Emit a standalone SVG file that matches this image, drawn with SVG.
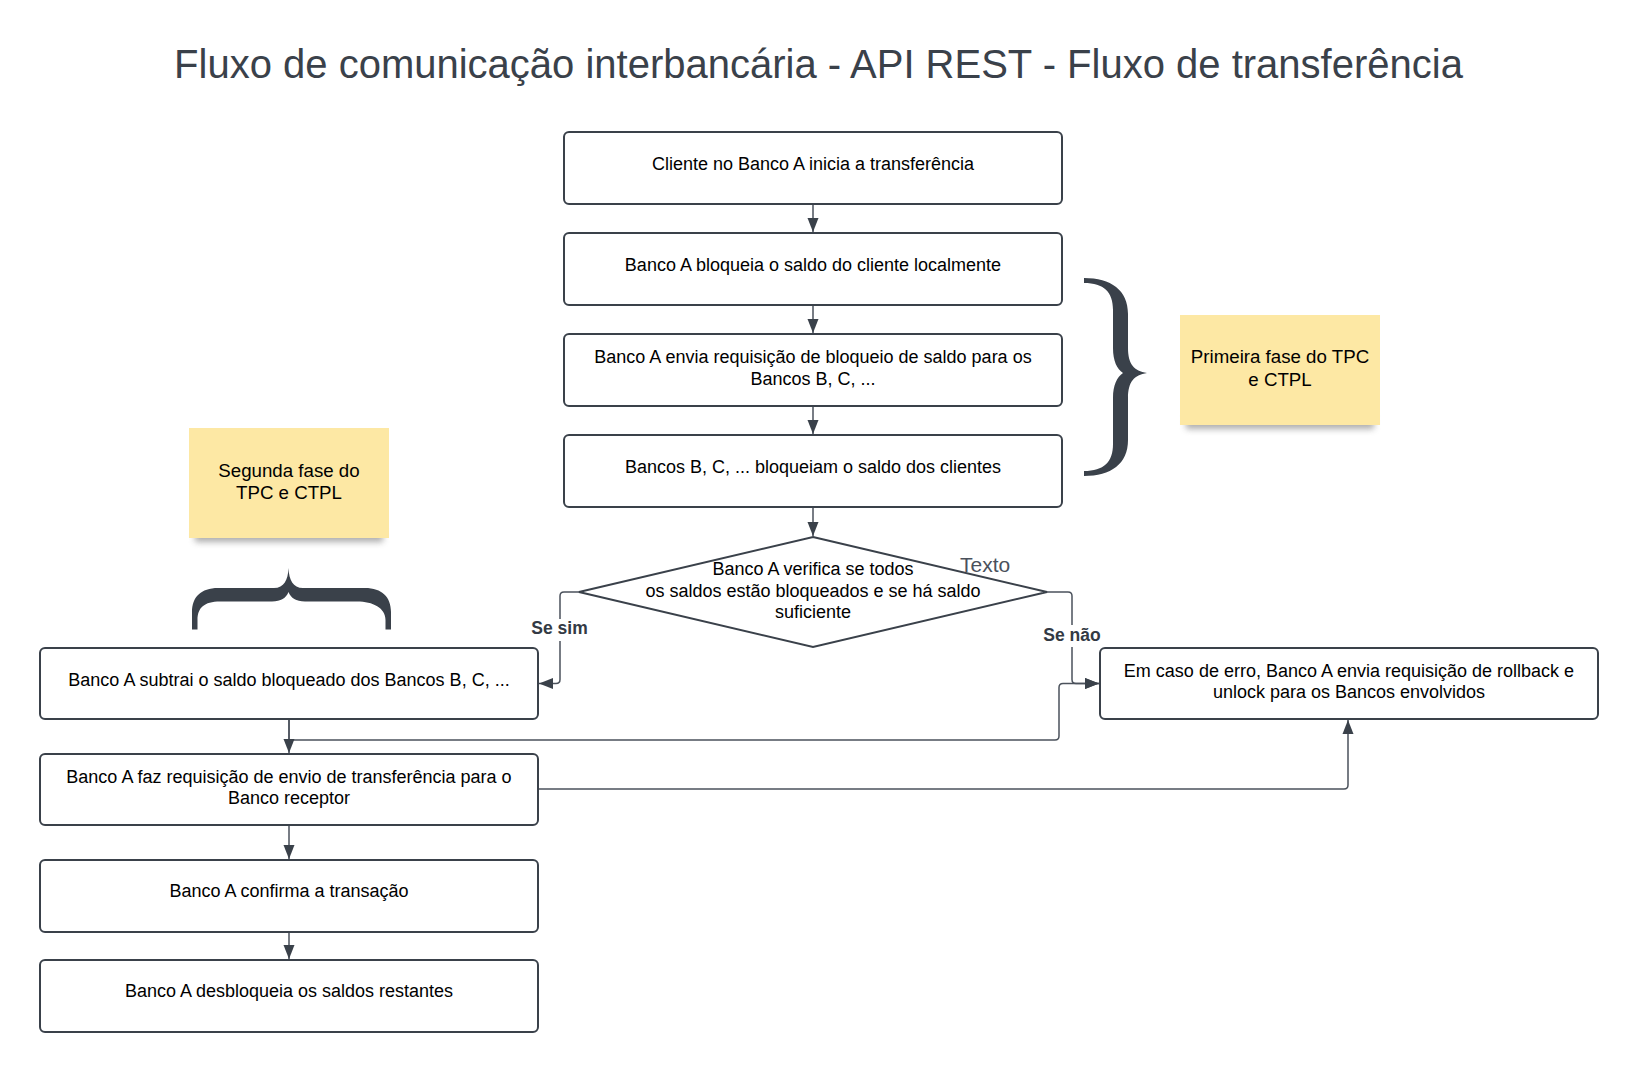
<svg xmlns="http://www.w3.org/2000/svg" width="1638" height="1072" viewBox="0 0 1638 1072">
<style>
.box{fill:#ffffff;stroke:#3a414a;stroke-width:2}
.t{font-family:"Liberation Sans",Arial,sans-serif;font-size:18px;fill:#000000;text-anchor:middle}
.nt{font-family:"Liberation Sans",Arial,sans-serif;font-size:18.7px;fill:#000000;text-anchor:middle}
.lbl{font-family:"Liberation Sans",Arial,sans-serif;font-size:17.5px;font-weight:bold;fill:#333a44;text-anchor:middle}
.title{font-family:"Liberation Sans",Arial,sans-serif;font-size:40px;fill:#3a414a;text-anchor:middle}
.conn{fill:none;stroke:#4b525c;stroke-width:1.5}
.note{fill:#fde8a4}
.brace{fill:#3a414a}
</style>
<defs>
<marker id="arr" markerUnits="userSpaceOnUse" markerWidth="14" markerHeight="12" refX="14" refY="6" orient="auto">
<path d="M0,0.5 L14,6 L0,11.5 Z" fill="#3a414a"/>
</marker>
<filter id="sh" x="-20%" y="-100%" width="140%" height="300%">
<feGaussianBlur stdDeviation="3"/>
</filter>
</defs>
<rect width="1638" height="1072" fill="#ffffff"/>
<text class="title" x="818.5" y="78">Fluxo de comunicação interbancária - API REST - Fluxo de transferência</text>

<g id="connectors">
<path class="conn" d="M813,204 V232" marker-end="url(#arr)"/>
<path class="conn" d="M813,305 V333" marker-end="url(#arr)"/>
<path class="conn" d="M813,406 V434" marker-end="url(#arr)"/>
<path class="conn" d="M813,507 V536" marker-end="url(#arr)"/>
<path class="conn" d="M579,592 H564 Q560,592 560,596 V679.5 Q560,683.5 556,683.5 H539" marker-end="url(#arr)"/>
<path class="conn" d="M1047,592 H1068 Q1072,592 1072,596 V679.5 Q1072,683.5 1076,683.5 H1099" marker-end="url(#arr)"/>
<path class="conn" d="M289,719 V740 H1055 Q1059,740 1059,736 V687.5 Q1059,683.5 1063,683.5 H1099" marker-end="url(#arr)"/>
<path class="conn" d="M289,719 V753" marker-end="url(#arr)"/>
<path class="conn" d="M538,789 H1344 Q1348,789 1348,785 V720" marker-end="url(#arr)"/>
<path class="conn" d="M289,825 V859" marker-end="url(#arr)"/>
<path class="conn" d="M289,932 V959" marker-end="url(#arr)"/>
<rect x="528" y="619" width="64" height="22" fill="#ffffff"/>
<text class="lbl" x="559.5" y="634">Se sim</text>
<rect x="1041" y="625" width="62" height="22" fill="#ffffff"/>
<text class="lbl" x="1072" y="641">Se não</text>
</g>

<g id="n1">
<rect class="box" x="564" y="132" width="498" height="72" rx="5"/>
<text class="t" x="813" y="170">Cliente no Banco A inicia a transferência</text>
</g>
<g id="n2">
<rect class="box" x="564" y="233" width="498" height="72" rx="5"/>
<text class="t" x="813" y="271">Banco A bloqueia o saldo do cliente localmente</text>
</g>
<g id="n3">
<rect class="box" x="564" y="334" width="498" height="72" rx="5"/>
<text class="t" x="813" y="363">Banco A envia requisição de bloqueio de saldo para os</text>
<text class="t" x="813" y="385">Bancos B, C, ...</text>
</g>
<g id="n4">
<rect class="box" x="564" y="435" width="498" height="72" rx="5"/>
<text class="t" x="813" y="473">Bancos B, C, ... bloqueiam o saldo dos clientes</text>
</g>
<g id="n5">
<path class="box" d="M813,537 L1047,592 L813,647 L579,592 Z"/>
<text class="t" x="813" y="575">Banco A verifica se todos</text>
<text class="t" x="813" y="597">os saldos estão bloqueados e se há saldo</text>
<text class="t" x="813" y="618">suficiente</text>
</g>
<g id="texto">
<text x="960" y="572" style="font-family:'Liberation Sans',Arial,sans-serif;font-size:21px;fill:#4a515c">Texto</text>
</g>
<g id="n6">
<rect class="box" x="40" y="648" width="498" height="71" rx="5"/>
<text class="t" x="289" y="686">Banco A subtrai o saldo bloqueado dos Bancos B, C, ...</text>
</g>
<g id="n7">
<rect class="box" x="1100" y="648" width="498" height="71" rx="5"/>
<text class="t" x="1349" y="677">Em caso de erro, Banco A envia requisição de rollback e</text>
<text class="t" x="1349" y="698">unlock para os Bancos envolvidos</text>
</g>
<g id="n8">
<rect class="box" x="40" y="754" width="498" height="71" rx="5"/>
<text class="t" x="289" y="783">Banco A faz requisição de envio de transferência para o</text>
<text class="t" x="289" y="804">Banco receptor</text>
</g>
<g id="n9">
<rect class="box" x="40" y="860" width="498" height="72" rx="5"/>
<text class="t" x="289" y="897">Banco A confirma a transação</text>
</g>
<g id="n10">
<rect class="box" x="40" y="960" width="498" height="72" rx="5"/>
<text class="t" x="289" y="997">Banco A desbloqueia os saldos restantes</text>
</g>

<g id="note1">
<rect x="1186" y="416" width="188" height="13" fill="#6b6b6b" opacity="0.55" filter="url(#sh)"/>
<rect class="note" x="1180" y="315" width="200" height="110"/>
<text class="nt" x="1280" y="363">Primeira fase do TPC</text>
<text class="nt" x="1280" y="386">e CTPL</text>
</g>
<g id="note2">
<rect x="195" y="529" width="188" height="13" fill="#6b6b6b" opacity="0.55" filter="url(#sh)"/>
<rect class="note" x="189" y="428" width="200" height="110"/>
<text class="nt" x="289" y="477">Segunda fase do</text>
<text class="nt" x="289" y="499">TPC e CTPL</text>
</g>

<g id="brace1">
<path class="brace" d="M1084,278 C1111,278 1128,290 1128,314 L1128,348 C1128,364 1134,371 1147,373 C1134,375 1128,382 1128,398 L1128,440 C1128,464 1111,476 1084,476 L1084,471 C1104,471 1113,462 1113,444 L1113,398 C1113,385 1117,377 1123,373 C1117,369 1113,361 1113,348 L1113,310 C1113,292 1104,283 1084,283 Z"/>
</g>
<g id="brace2">
<path class="brace" d="M288.5,568 C288,580 284,588 274,588 L218,588 C201,588 192,597 192,612 L192,629.5 L197.5,629.5 L197.5,620 C197.5,608 204,601.5 220,601.5 L272,601.5 C281,601.5 286,598 288.5,592 C291,598 296,601.5 305,601.5 L357,601.5 C373,601.5 385.5,608 385.5,620 L385.5,629.5 L391,629.5 L391,612 C391,597 382,588 365,588 L303,588 C293,588 289,580 288.5,568 Z"/>
</g>
</svg>
